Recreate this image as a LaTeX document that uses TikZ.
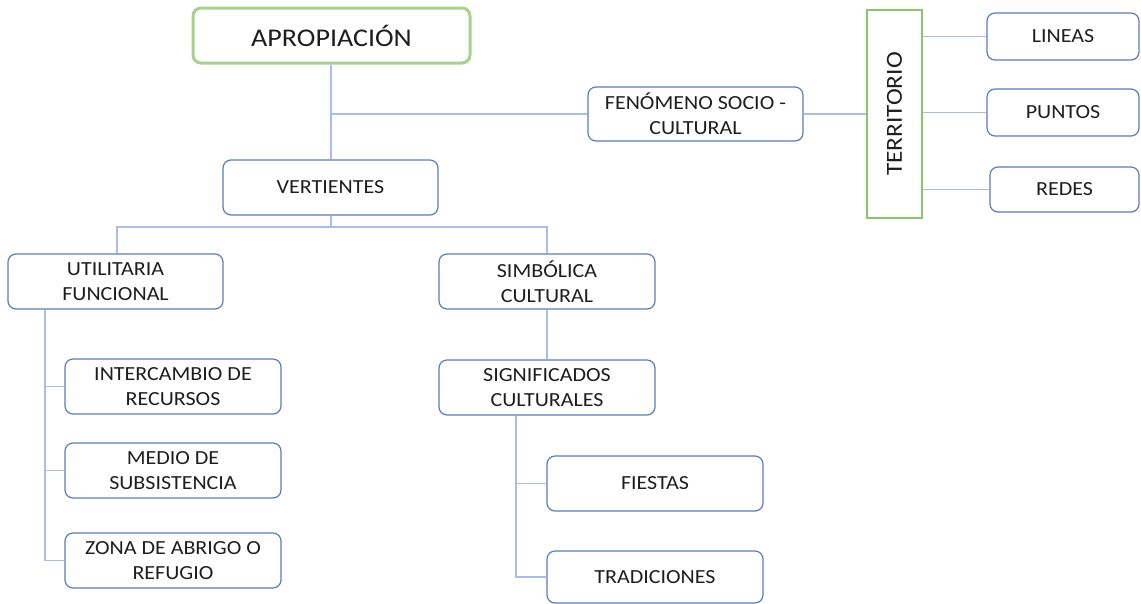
\documentclass[tikz,border=0pt]{standalone}
\usepackage{fontspec}
\setmainfont{Carlito}[FakeStretch=1.1]
\definecolor{boxblue}{HTML}{5B7CB8}
\definecolor{linkblue}{HTML}{A9BEE2}
\definecolor{txt}{HTML}{1E1E1E}
\definecolor{grn}{HTML}{A9D18E}
\definecolor{grn2}{HTML}{8CC36E}
\begin{document}
\begin{tikzpicture}[x=1pt,y=-1pt,
  box/.style={draw=boxblue, line width=1.2pt, rounded corners=8pt, fill=white,
    align=center, text=txt, inner sep=0pt, font=\fontsize{20}{25}\selectfont},
  link/.style={draw=linkblue, line width=1.1pt}]
\useasboundingbox (0,0) rectangle (1141,603);
% nodes
\node[box, draw=grn, line width=3pt, minimum width=277pt, minimum height=55pt,
  font=\fontsize{25.5}{30}\selectfont] (apro) at (331.5,35.5) {APROPIACIÓN};
\node[box, minimum width=215pt, minimum height=54pt] (fen) at (695.5,114) {FENÓMENO SOCIO -\\CULTURAL};
\node[box, draw=grn2, rounded corners=0pt, minimum width=55pt, minimum height=208pt,
  font=\fontsize{23}{28}\selectfont] (terr) at (894.5,114) {\rotatebox{90}{TERRITORIO}};
\node[box, minimum width=152pt, minimum height=47pt] (lin) at (1063,36.5) {LINEAS};
\node[box, minimum width=152pt, minimum height=47pt] (pun) at (1063,112.5) {PUNTOS};
\node[box, minimum width=149pt, minimum height=45pt] (red) at (1064.5,189.5) {REDES};
\node[box, minimum width=215pt, minimum height=55pt] (vert) at (330.5,187.5) {VERTIENTES};
\node[box, minimum width=215pt, minimum height=55pt] (util) at (115.5,281.5) {UTILITARIA\\FUNCIONAL};
\node[box, minimum width=216pt, minimum height=55pt] (sim) at (547,281.5) {SIMBÓLICA\\CULTURAL};
\node[box, minimum width=216pt, minimum height=55pt] (sig) at (547,387.5) {SIGNIFICADOS\\CULTURALES};
\node[box, minimum width=216pt, minimum height=55pt] (fie) at (655,483.5) {FIESTAS};
\node[box, minimum width=216pt, minimum height=52pt] (tra) at (655,577) {TRADICIONES};
\node[box, minimum width=216pt, minimum height=55pt] (int) at (173,386.5) {INTERCAMBIO DE\\RECURSOS};
\node[box, minimum width=216pt, minimum height=55pt] (med) at (173,470.5) {MEDIO DE\\SUBSISTENCIA};
\node[box, minimum width=216pt, minimum height=55pt] (zon) at (173,560.5) {ZONA DE ABRIGO O\\REFUGIO};
% helper coordinates
\coordinate (bus) at (331,227);
\coordinate (ubus) at (45,0);
\coordinate (sbus) at (516,0);
% connectors
\draw[link] (apro.south -| 331,0) -- (vert.north -| 331,0);
\draw[link] (fen.west -| 331,0) -- (fen.west);
\draw[link] (fen.east) -- (terr.west);
\draw[link] (terr.east |- lin.west) -- (lin.west);
\draw[link] (terr.east |- pun.west) -- (pun.west);
\draw[link] (terr.east |- red.west) -- (red.west);
\draw[link] (vert.south -| bus) -- (bus);
\draw[link] (util.north -| 117,0) -- (117,227) -- (sim.north |- bus) -- (sim.north);
\draw[link] (sim.south) -- (sig.north);
\draw[link] (util.south -| ubus) -- (zon.west -| ubus) -- (zon.west);
\draw[link] (int.west -| ubus) -- (int.west);
\draw[link] (med.west -| ubus) -- (med.west);
\draw[link] (sig.south -| sbus) -- (tra.west -| sbus) -- (tra.west);
\draw[link] (fie.west -| sbus) -- (fie.west);
\end{tikzpicture}
\end{document}
